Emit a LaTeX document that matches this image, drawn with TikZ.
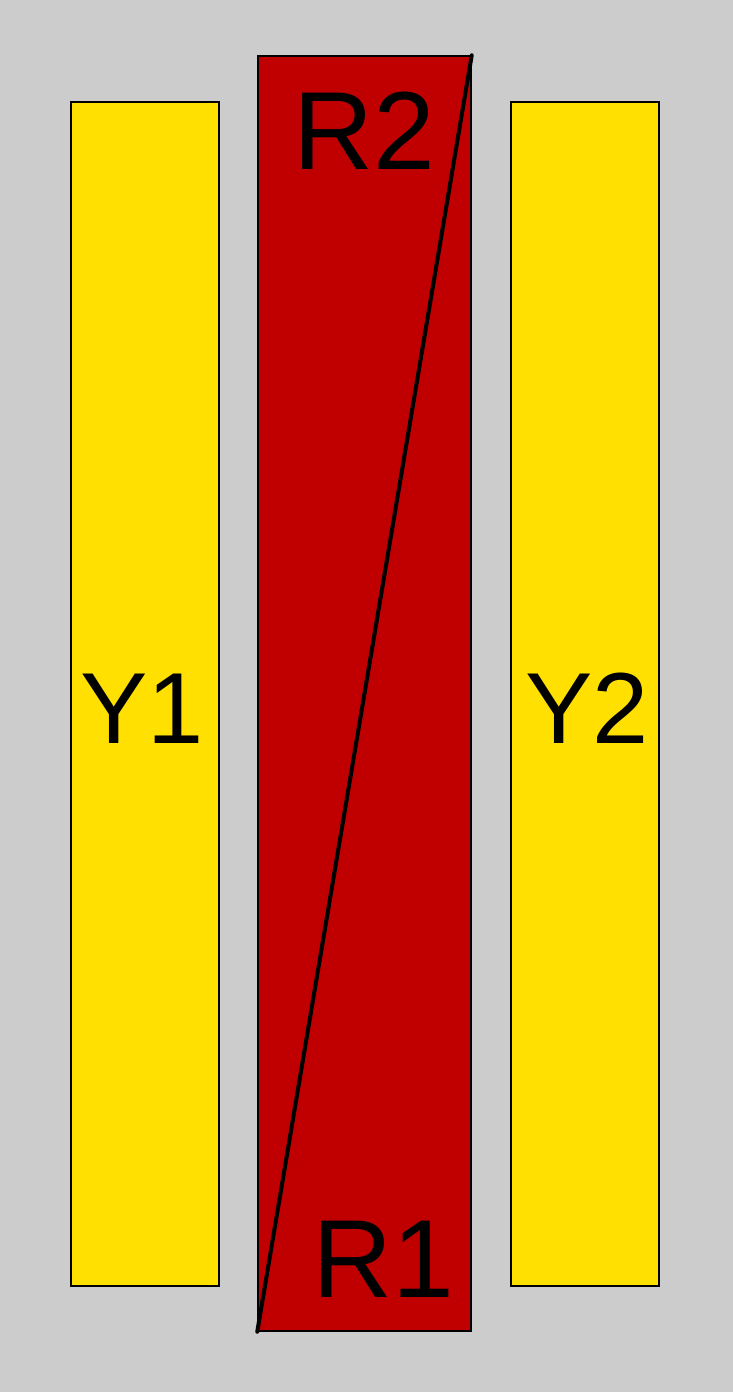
\documentclass[tikz,border=0pt]{standalone}
\usepackage{fontspec}
\setmainfont{Liberation Sans}
\usepackage{tikz}
\usetikzlibrary{positioning}
\definecolor{bggray}{RGB}{204,204,204}
\definecolor{barred}{RGB}{192,0,0}
\definecolor{baryellow}{RGB}{255,224,0}
\tikzset{
    bar/.style={rectangle, draw=black, line width=1.5pt, inner sep=0pt},
    bigtext/.style={anchor=base, inner sep=0pt, font=\fontsize{111}{116}\selectfont},
    midtext/.style={anchor=base, inner sep=0pt, font=\fontsize{101}{106}\selectfont}
}

\begin{document}
\begin{tikzpicture}[x=1pt, y=-1pt]
    % Background
    \fill[bggray] (0,0) rectangle (733,1392);
    \useasboundingbox (0,0) rectangle (733,1392);

    % Bars
    \node[bar, fill=baryellow, minimum width=148pt, minimum height=1184pt] (y1) at (145,694) {};
    \node[bar, fill=barred, minimum width=213pt, minimum height=1275pt] (red) at (364.5,693.5) {};
    \node[bar, fill=baryellow, minimum width=148pt, minimum height=1184pt] (y2) at (585,694) {};

    % Split line
    \draw[line width=4pt, line cap=round] (red.south west) -- (red.north east);

    % Labels
    \node[bigtext] (r2) at (364,169) {R2};
    \node[bigtext] (r1) at (383,1297) {R1};
    \node[midtext] (ylab1) at (142,743) {Y1};
    \node[midtext] (ylab2) at (587,743) {Y2};
\end{tikzpicture}
\end{document}
